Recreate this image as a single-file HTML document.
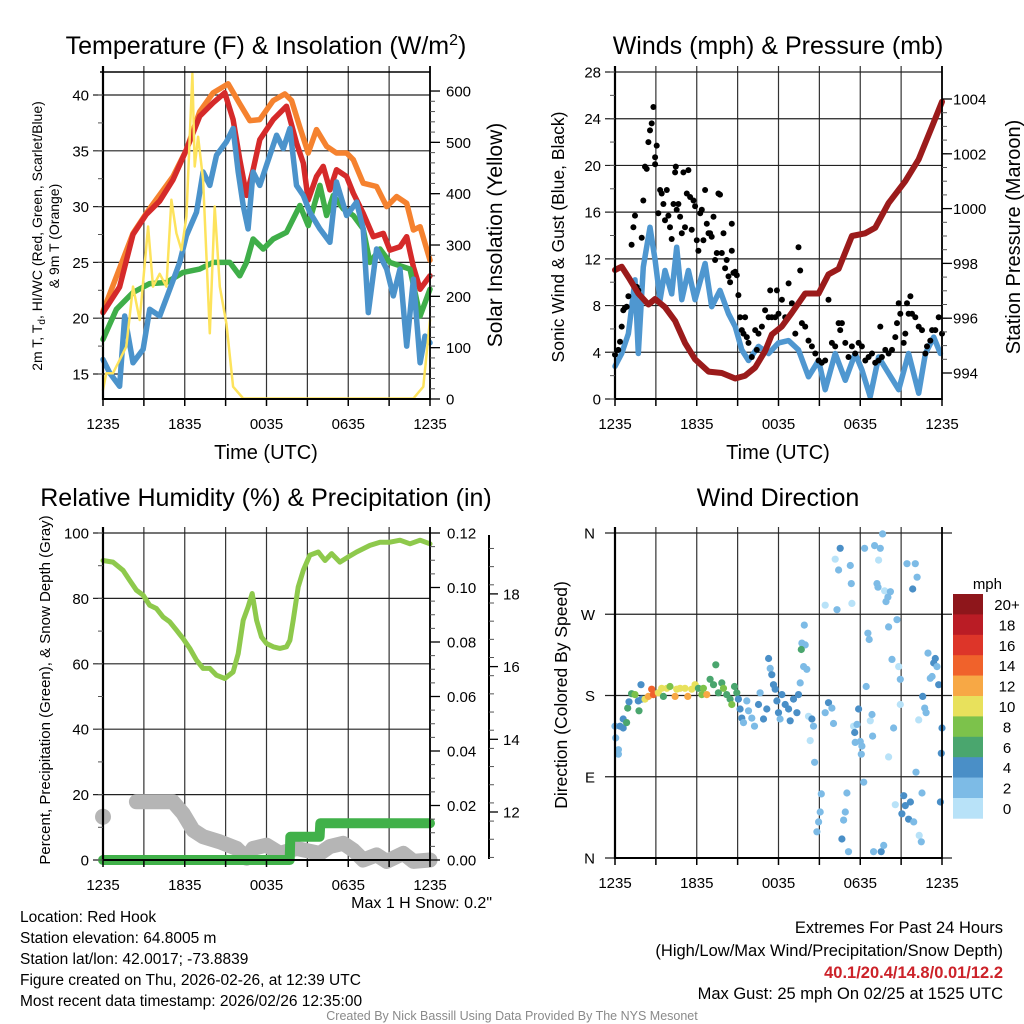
<!DOCTYPE html>
<html><head><meta charset="utf-8"><title>Red Hook Meteogram</title>
<style>
html,body{margin:0;padding:0;background:#fff;}
svg{display:block;font-family:"Liberation Sans",Arial,sans-serif;}
</style></head>
<body>
<svg id="chart" width="1024" height="1024" viewBox="0 0 1024 1024" xmlns="http://www.w3.org/2000/svg">
<rect x="0" y="0" width="1024" height="1024" fill="#fff"/>
<g id="layer-grid"></g>
<g id="layer-data"></g>
<g id="layer-axes"></g>

<!-- Titles -->
<text x="266" y="54" font-size="25" text-anchor="middle">Temperature (F) &amp; Insolation (W/m<tspan dy="-9" font-size="16">2</tspan><tspan dy="9">)</tspan></text>
<text x="778" y="54" font-size="25" text-anchor="middle">Winds (mph) &amp; Pressure (mb)</text>
<text x="266" y="506" font-size="25" text-anchor="middle">Relative Humidity (%) &amp; Precipitation (in)</text>
<text x="778" y="506" font-size="25" text-anchor="middle">Wind Direction</text>

<!-- axis titles -->
<text x="266" y="459" font-size="20" text-anchor="middle">Time (UTC)</text>
<text x="778" y="459" font-size="20" text-anchor="middle">Time (UTC)</text>
<text transform="translate(42,236) rotate(-90)" font-size="14" text-anchor="middle">2m T, T<tspan dy="3" font-size="10">d</tspan><tspan dy="-3">, HI/WC (Red, Green, Scarlet/Blue)</tspan></text>
<text transform="translate(59,236) rotate(-90)" font-size="14" text-anchor="middle">&amp; 9m T (Orange)</text>
<text transform="translate(502,235) rotate(-90)" font-size="21" text-anchor="middle">Solar Insolation (Yellow)</text>
<text transform="translate(564,237) rotate(-90)" font-size="17.5" text-anchor="middle">Sonic Wind &amp; Gust (Blue, Black)</text>
<text transform="translate(1020,237) rotate(-90)" font-size="20" text-anchor="middle">Station Pressure (Maroon)</text>
<text transform="translate(50,690) rotate(-90)" font-size="15" text-anchor="middle">Percent, Precipitation (Green), &amp; Snow Depth (Gray)</text>
<text transform="translate(567,695) rotate(-90)" font-size="17.5" text-anchor="middle">Direction (Colored By Speed)</text>
<text x="492" y="908" font-size="16" text-anchor="end">Max 1 H Snow: 0.2"</text>
<text x="1002" y="589" font-size="15" text-anchor="end">mph</text>

<!-- info text -->
<g font-size="15.5">
<text x="20" y="922">Location: Red Hook</text>
<text x="20" y="943">Station elevation: 64.8005 m</text>
<text x="20" y="964">Station lat/lon: 42.0017; -73.8839</text>
<text x="20" y="985">Figure created on Thu, 2026-02-26, at 12:39 UTC</text>
<text x="20" y="1006">Most recent data timestamp: 2026/02/26 12:35:00</text>
</g>
<g font-size="16.5" text-anchor="end">
<text x="1003" y="933">Extremes For Past 24 Hours</text>
<text x="1003" y="956">(High/Low/Max Wind/Precipitation/Snow Depth)</text>
<text x="1003" y="978" fill="#cc2229" font-weight="bold">40.1/20.4/14.8/0.01/12.2</text>
<text x="1003" y="999">Max Gust: 25 mph On 02/25 at 1525 UTC</text>
</g>
<text x="512" y="1020" font-size="12.5" fill="#8a8a8a" text-anchor="middle">Created By Nick Bassill Using Data Provided By The NYS Mesonet</text>
</svg>

<script>
// ---------- DATA ----------
const xTickLabels = ["1235","1835","0035","0635","1235"];
// Panel 1: temperature (F) & insolation
const redHours = [0,1.22,2.2,3.18,4.16,5.14,6.12,7.1,8.08,8.94,9.55,10.04,10.53,11.02,11.51,12.49,13.47,14.2,14.7,15.06,15.67,16.16,16.65,17.14,17.88,18.37,19.1,19.84,20.57,21.06,21.8,22.29,22.78,23.27,24];
const redTemp = [20.5,22.8,27.5,29.3,30.5,32.4,35.1,38.1,39.3,40.2,37.8,34.2,31.0,33.3,36,37.8,39,35.7,33.9,30.6,32.7,33.6,31.5,33.3,32.7,31.2,29.4,27.3,27.6,26.1,26.4,27.3,24.6,22.6,23.8];
const orangeHours = [0,2.2,3.18,5.14,6.12,7.1,8.08,9.18,10.04,10.78,11.51,12.49,13.35,13.84,14.45,15.06,15.67,16.41,17.14,17.88,18.37,19.1,20.08,20.82,21.55,22.29,22.78,23.27,24];
const orangeTemp = [20.6,27.6,29.4,32.7,35.1,38.5,40.2,41,39.2,37.7,37.8,39.5,40.1,39.5,37.1,34.8,36.9,35.4,34.8,34.8,34.2,32.1,31.8,30,30.9,30.3,27.9,28.2,25.2];
const greenHours = [0,0.98,2.2,3.43,4.65,5.88,7.1,8.08,9.31,10.04,10.53,11.02,11.76,12.49,13.47,14.45,15.06,15.92,16.41,16.9,17.63,18.37,19.1,19.59,20.33,21.06,21.8,22.53,23.27,24];
const greenDew = [18.1,20.8,22.3,23.1,23.2,24.1,24.4,25,25,23.8,25,27.1,26.2,27.1,27.7,30.1,28.3,31.9,29.2,31,29.8,29.2,28,25,26.2,25,24.7,24.4,20.2,22.6];
const blueHours = [0,0.49,1.22,1.59,2.2,2.94,3.43,4.16,4.9,5.63,6.12,6.86,7.35,7.84,8.33,9.06,9.55,9.92,10.29,10.65,11.02,11.51,12,12.74,13.23,13.72,14.2,14.7,15.18,15.92,16.65,17.14,17.88,18.61,19.1,19.47,20.08,20.82,21.31,21.8,22.29,22.78,23.27,23.63,24];
const blueWc = [16.3,15.1,13.9,20.2,16,17.2,20.8,20.2,22.6,25,27.4,29.5,33.1,31.9,34.6,35.8,37,33.1,30.1,28,33.1,31.9,33.7,36.4,35.2,37,31.9,31,29.5,28,26.8,32.2,29.2,30.4,28,20.5,26.2,24.4,22,24.4,17.5,23.5,16,18.4,17.8];
const solarHours = [0,0.24,0.73,1.22,1.71,2.2,2.69,3.31,3.67,4.16,4.65,5.02,5.39,5.76,6.12,6.56,6.73,6.98,7.35,7.84,8.2,8.57,9.06,9.55,10.29,22.78,23.51,24];
const solarWm2 = [18,50,50,76,102,219,154,336,219,244,219,388,323,290,355,634,453,511,427,128,375,219,147,24,1,1,24,154];
const tempTicks = [15,20,25,30,35,40];
const solarTicks = [0,100,200,300,400,500,600];

// Panel 2: winds & pressure
const windHours = [0,0.49,0.98,1.47,1.71,2.08,2.57,2.94,3.31,3.67,4.16,4.53,4.9,5.39,5.88,6.61,7.1,7.71,8.33,8.82,9.31,9.8,10.53,11.27,12,12.74,13.47,14.2,14.94,15.43,16.16,16.9,17.63,18.12,18.73,19.35,20.08,20.82,21.55,22.29,22.78,23.39,23.88];
const windMph = [2.8,3.9,5.6,10.2,3.9,11.3,14.7,11.9,8.5,11,9,13,8.5,11,8.5,11.6,7.9,9.3,7.3,6.2,4.2,3.3,4.5,3.9,4.8,5,4.2,1.9,3.3,0.8,3.9,1.6,3.9,2.5,0.2,3.6,2.2,0.8,3.9,0.5,3.9,5.3,3.9];
const pressHours = [0,0.49,0.98,1.71,2.45,2.94,3.67,4.41,5.14,5.88,6.86,7.84,8.82,9.55,10.29,11.02,11.51,12.25,12.98,13.96,14.94,15.67,16.41,17.39,18.37,19.1,20.08,21.31,22.29,23.27,24];
const pressMb = [997.76,997.88,997.5,996.9,996.5,996.7,996.4,995.9,995.1,994.5,994.05,994,993.8,993.9,994.2,994.8,995.4,995.7,996.2,996.9,996.9,997.6,997.8,999,999.1,999.3,1000.2,1001,1001.8,1003,1003.9];
const gustHours = [0,0.24,0.37,0.49,0.61,0.73,0.86,0.98,1.22,1.35,1.47,1.59,1.71,1.96,2.08,2.2,2.33,2.45,2.57,2.69,2.82,2.94,2.94,3.06,3.18,3.31,3.43,3.55,3.67,3.8,3.92,4.04,4.16,4.29,4.41,4.46,4.53,4.65,4.78,4.9,5.02,5.14,5.27,5.39,5.51,5.63,5.76,5.88,6,6.12,6.25,6.37,6.49,6.61,6.74,6.86,6.98,7.1,7.23,7.35,7.47,7.59,7.71,7.84,7.96,8.08,8.2,8.33,8.45,8.57,8.57,8.69,8.82,8.94,9.06,9.18,9.31,9.43,9.55,9.67,9.8,10.04,10.29,10.41,10.53,10.78,11.02,11.27,11.39,11.51,11.76,11.88,12,12.25,12.49,12.74,12.98,13.23,13.47,13.59,13.72,13.96,14.2,14.45,14.7,14.94,15.18,15.43,15.67,15.92,16.16,16.41,16.53,16.65,16.9,17.14,17.39,17.63,17.88,18.12,18.37,18.61,18.86,19.1,19.35,19.47,19.59,19.84,20.08,20.33,20.57,20.7,20.82,20.94,21.19,21.31,21.43,21.55,21.68,21.8,22.04,22.29,22.53,22.78,22.9,23.14,23.27,23.51,23.76,24];
const gustMph = [3.8,4.2,4.9,6.2,7.6,7.8,7.9,8.8,13.2,14.7,15.7,9.6,9.3,13.8,17,19.9,19.7,22,23,23.6,25,20.7,20.1,21.7,15.9,17.9,17.6,16.7,15.3,17.9,15.7,14.7,13.7,16.7,19.4,19.9,16.2,16.7,15.6,14.2,19.4,14.7,17.6,19.6,17.3,14.5,17,16.5,13.6,12.7,15.9,16.2,13.6,17.9,15,14.2,14.2,13.9,15.6,11.9,12.5,17.6,17.5,12.5,14.2,11.2,11.9,10.5,10,12.7,15,10.8,10.9,10.6,8.9,7,5.9,5.6,7,5.3,4.8,3.6,5.9,4.2,5.6,6.2,7.6,7,9.3,7,7,9.3,7.3,8.5,7,9.9,8.2,5.6,13,11,6.5,6.2,5,4.5,3.9,3.3,3.1,3.3,8.5,4.8,4.5,6.5,5.9,6.5,4.8,3.6,4.5,3.9,4.8,4.5,3.3,3.6,3.9,3.1,3.3,6.2,3.6,4.2,3.9,4.2,5.3,6.5,8.2,7.3,4.8,5.6,8.2,7.3,8.8,7.3,7,6.2,5.9,3.9,4.5,5,5.9,5.9,7,5.6];
const windTicks = [0,4,8,12,16,20,24,28];
const pressTicks = [994,996,998,1000,1002,1004];

// Panel 3: humidity, precipitation, snow depth
const rhHours = [0,0.73,1.47,1.96,2.45,2.94,3.43,3.92,4.41,4.9,5.39,5.88,6.37,6.86,7.35,7.84,8.33,8.94,9.55,9.92,10.29,10.65,10.95,11.27,11.63,12,12.49,12.98,13.47,13.72,13.96,14.33,14.7,15.18,15.8,16.29,16.78,17.39,18,18.61,19.59,20.33,21.06,21.8,22.53,23.27,24];
const rhPct = [91.6,91.1,88.6,85.5,82.5,81,77.9,76.9,74.3,72.8,70.3,67.7,64.7,61.1,58.6,58.6,56.5,55.5,57.5,63.1,73.3,77.4,81.5,73.3,68.2,66.2,65.2,64.7,65.2,67.2,73.3,83.5,88.6,93.2,94.2,91.6,93.7,91.1,92.7,94.2,96.2,97.2,97.2,97.8,96.7,97.8,96.7];
const precipHours = [0,13.7,13.75,15.9,15.95,24];
const precipIn = [0,0,0.0085,0.0085,0.0135,0.0135];
const snowHours = [0,2.45,5.14,5.88,6.61,7.35,8.57,9.8,10.53,11.02,12,12.98,14.2,15.92,16.65,17.63,18.37,19.1,20.08,20.82,22.04,22.78,24];
const snowIn = [11.87,12.28,12.28,11.96,11.5,11.32,11.18,11,10.73,11,11.09,10.86,11,10.86,11.05,11.14,10.95,10.68,10.82,10.64,10.86,10.64,10.68];
const rhTicks = [0,20,40,60,80,100];
const precipTicks = ["0.00","0.02","0.04","0.06","0.08","0.10","0.12"];
const snowTicks = [12,14,16,18];

// Panel 4: wind direction
const dirHours = [0,0.05,0.25,0.25,0.37,0.6,0.6,0.85,0.93,1.03,1.22,1.47,1.71,1.76,1.91,1.96,2.2,2.45,2.69,2.82,3.18,3.43,3.55,3.8,4.04,4.41,4.53,4.78,5.14,5.34,5.63,5.88,6.12,6.37,6.49,6.74,6.98,7.23,7.4,7.59,7.84,7.96,8.2,8.45,8.57,8.77,8.94,9.06,9.18,9.31,9.43,9.67,9.8,10.04,10.24,10.53,10.65,10.9,11.14,11.27,11.39,11.51,11.63,11.76,11.88,12,12.12,12.25,12.49,12.74,12.86,13.1,13.35,13.47,13.59,13.72,13.84,13.89,13.96,14.08,13.67,14.2,14.33,14.45,14.57,14.65,14.82,14.94,15.06,15.14,15.43,15.43,15.67,15.92,16.04,16.16,16.29,16.41,16.53,16.65,16.78,16.9,17.02,17.14,17.27,17.34,17.39,17.51,17.59,17.63,17.76,17.88,18,18.08,18.12,18.25,18.32,18.44,18.56,18.66,18.74,18.86,18.91,18.98,19.05,19.23,19.3,19.35,19.47,19.54,19.64,19.72,19.79,19.89,20.03,20.08,20.21,20.08,20.33,20.45,20.57,20.7,20.82,20.94,20.94,21.06,21.19,21.31,21.43,21.55,21.68,21.85,21.92,22.04,22.17,22.09,22.29,22.33,22.48,22.53,22.58,22.73,22.83,22.97,23.14,23.27,23.39,23.51,23.63,23.76,23.88,23.95,24.05];
const dirDeg = [146,133,120,115,146,144,154,150,166,173,182,181,174,163,192,176,176,179,187,181,183,188,179,188,190,179,187,188,188,179,187,192,188,181,188,181,198,192,214,183,194,188,181,176,170,190,183,176,165,155,150,174,163,155,146,170,183,154,165,221,210,203,192,187,174,161,154,181,170,165,152,176,161,181,194,238,212,258,236,209,231,157,130,154,146,106,29,40,51,71,280,161,172,166,149,331,275,319,343,21,42,51,72,7,324,304,282,146,139,128,148,165,129,115,124,84,343,190,249,242,152,159,135,7,346,304,300,330,343,7,359,14,296,284,289,256,295,112,220,144,59,264,212,198,170,49,69,58,326,43,62,298,40,326,311,95,153,25,18,72,179,166,161,227,199,201,216,221,212,192,62,116,144];
const dirSpeed = [3,3,3,3,4,4,4,6,6,4,7,9,5,6,4,4,10,12,14,15,10,11,7,10,9,13,10,11,10,12,11,10,7,9,8,12,7,7,6,7,7,8,7,7,8,6,7,4,4,4,3,3,3,3,3,4,3,4,4,4,3,4,4,4,4,4,3,4,4,4,4,4,4,4,3,3,3,3,3,3,6,1,1,4,3,3,3,3,3,3,1,3,4,3,3,1,3,3,4,4,3,3,3,3,3,3,1,1,4,3,2,4,3,3,3,3,3,3,3,3,1,3,3,3,3,3,3,1,3,4,3,3,1,3,3,3,3,1,3,3,1,3,1,3,1,4,4,4,3,4,4,4,3,3,3,3,1,1,3,3,4,3,3,3,3,3,4,4,3,4,4,4,4];
const dirTickLabels = ["N","E","S","W","N"];
const speedBinLabels = ["0","2","4","6","8","10","12","14","16","18","20+"];
const speedBinColors = ["#b8e2f8","#7dbbe6","#4a8fc7","#4aa66e","#7cc24b","#e8e15c","#f7a845","#f0622b","#dd3529","#ba1c25","#8e161b"];

// ---------- HELPERS ----------
const NS = "http://www.w3.org/2000/svg";
const gGrid = document.getElementById("layer-grid");
const gData = document.getElementById("layer-data");
const gAxes = document.getElementById("layer-axes");
function mk(tag, parent, attrs) {
  const el = document.createElementNS(NS, tag);
  for (const k in attrs) el.setAttribute(k, attrs[k]);
  parent.appendChild(el);
  return el;
}
const P1 = {L:103, R:430, T:72, B:399};
const P2 = {L:615, R:942, T:72, B:399};
const P3 = {L:103, R:430, T:533, B:860};
const P4 = {L:615, R:942, T:533, B:858};
function xAt(P, h) { return P.L + h / 24 * (P.R - P.L); }
const yTemp = v => 95 + (40 - v) * 55.8 / 5;
const ySolar = v => 399 - v * 0.5133;
const yWind = v => 399 - v * 327 / 28;
const yPress = v => 373 - (v - 994) * 27.4;
const yRh = v => 860 - v * 3.27;
const yPrecip = v => 860 - v / 0.12 * 327;
const ySnow = v => 812 - (v - 12) * 36.35;
const yDir = d => 858 - d / 360 * 325;

function pathD(P, hours, vals, yf) {
  let d = "";
  for (let i = 0; i < hours.length; i++) {
    d += (i ? "L" : "M") + xAt(P, hours[i]).toFixed(1) + " " + yf(vals[i]).toFixed(1);
  }
  return d;
}
function series(P, hours, vals, yf, color, w, name) {
  const el = mk("path", gData, {d: pathD(P, hours, vals, yf), fill: "none", stroke: color, "stroke-width": w, "stroke-linejoin": "round", "stroke-linecap": "round"});
  
  
  return el;
}
function text(parent, x, y, s, size, anchor, name) {
  const el = mk("text", parent, {x: x, y: y, "font-size": size, "text-anchor": anchor});
  el.textContent = s;
  
  
  return el;
}
function hline(parent, x1, x2, y, col, w, name) {
  const el = mk("line", parent, {x1: x1, x2: x2, y1: y, y2: y, stroke: col, "stroke-width": w});
  
  
}
function vline(parent, x, y1, y2, col, w, name) {
  const el = mk("line", parent, {x1: x, x2: x, y1: y1, y2: y2, stroke: col, "stroke-width": w});
  
  
}
function timeAxis(P, prefix) {
  for (let h = 0; h <= 24; h += 3) {
    const x = xAt(P, h);
    vline(gGrid, x, P.T - 6, P.B, "#333", 1.2, prefix + "-x-gridline");
    vline(gAxes, x, P.B, P.B + 7, "#000", 1.5, prefix + "-x-tick");
  }
  for (let i = 0; i < xTickLabels.length; i++) {
    text(gAxes, xAt(P, i * 6), P.B + 30, xTickLabels[i], 15, "middle", prefix + "-x-tick-label");
  }
  vline(gAxes, P.L, P.T - 6, P.B + 1, "#000", 2.2, prefix + "-left-axis-line");
  vline(gAxes, P.R, P.T - 6, P.B + 1, "#000", 1.8, prefix + "-right-axis-line");
  hline(gAxes, P.L, P.R, P.B, "#000", 2, prefix + "-x-axis-line");
}
function leftTicks(P, ticks, yf, minorStep, prefix, fmt) {
  const lo = ticks[0], hi = ticks[ticks.length - 1];
  for (let v = lo; v <= hi + 1e-9; v += minorStep) {
    hline(gAxes, P.L - 5, P.L, yf(v), "#555", 1, prefix + "-minor-tick");
  }
  ticks.forEach(v => {
    const y = yf(v);
    hline(gGrid, P.L - 10, P.R, y, "#222", 1.2, prefix + "-y-gridline");
    text(gAxes, P.L - 14, y + 5.5, fmt ? fmt(v) : String(v), 15, "end", prefix + "-y-tick-label");
  });
}
function rightTicks(P, ticks, yf, minorStep, prefix, labelX) {
  const lo = ticks[0], hi = ticks[ticks.length - 1];
  for (let v = lo; v <= hi + 1e-9; v += minorStep) {
    hline(gAxes, P.R, P.R + 5, yf(v), "#555", 1, prefix + "-minor-tick");
  }
  ticks.forEach(v => {
    const y = yf(v);
    hline(gAxes, P.R, P.R + 10, y, "#000", 1.3, prefix + "-major-tick");
    text(gAxes, labelX, y + 5.5, String(v), 15, "start", prefix + "-tick-label");
  });
}

// ---------- PANEL 1 ----------
timeAxis(P1, "temp");
leftTicks(P1, tempTicks, yTemp, 2.5, "temp");
hline(gAxes, P1.L - 3, P1.R, P1.T, "#000", 1.5, "temp-top-frame");
rightTicks(P1, solarTicks, ySolar, 20, "solar", 446);
series(P1, orangeHours, orangeTemp, yTemp, "#f5822f", 5.5, "temp-9m-line");
series(P1, redHours, redTemp, yTemp, "#d52a2a", 5.5, "temp-2m-line");
series(P1, greenHours, greenDew, yTemp, "#3fae49", 5.5, "dewpoint-line");
series(P1, blueHours, blueWc, yTemp, "#4b93cb", 5.5, "windchill-line");
series(P1, solarHours, solarWm2, ySolar, "#fde35c", 2.5, "insolation-line");

// ---------- PANEL 2 ----------
timeAxis(P2, "wind");
leftTicks(P2, windTicks, yWind, 2, "wind");
rightTicks(P2, pressTicks, yPress, 0.5, "pressure", 953);
series(P2, windHours, windMph, yWind, "#4f97d0", 5.5, "sonic-wind-line");
for (let i = 0; i < gustHours.length; i++) {
  const c = mk("circle", gData, {cx: xAt(P2, gustHours[i]).toFixed(1), cy: yWind(gustMph[i]).toFixed(1), r: 3, fill: "#000"});
  
  
}
series(P2, pressHours, pressMb, yPress, "#9b1b1b", 6, "pressure-line");

// ---------- PANEL 3 ----------
timeAxis(P3, "rh");
leftTicks(P3, rhTicks, yRh, 10, "rh");
for (let i = 0; i <= 24; i++) {
  hline(gAxes, P3.R, P3.R + 5, yPrecip(i * 0.005), "#555", 1, "precip-minor-tick");
}
precipTicks.forEach(s => {
  const y = yPrecip(parseFloat(s));
  hline(gAxes, P3.R, P3.R + 10, y, "#000", 1.3, "precip-major-tick");
  text(gAxes, 447, y + 5.5, s, 15, "start", "precip-tick-label");
});
vline(gAxes, 489, P3.T + 2, P3.B - 1, "#000", 2, "snow-axis-line");
for (let v = 10.75; v <= 19.5; v += 0.5) {
  hline(gAxes, 489, 494, ySnow(v), "#555", 1, "snow-minor-tick");
}
snowTicks.forEach(v => {
  hline(gAxes, 489, 498, ySnow(v), "#000", 1.3, "snow-major-tick");
  text(gAxes, 503, ySnow(v) + 5.5, String(v), 15, "start", "snow-tick-label");
});
const snowDot = mk("circle", gData, {cx: xAt(P3, snowHours[0]), cy: ySnow(snowIn[0]), r: 8, fill: "#b5b5b5"});


series(P3, snowHours.slice(1), snowIn.slice(1), ySnow, "#b5b5b5", 15, "snow-depth-line");
series(P3, precipHours, precipIn, yPrecip, "#41b14a", 10, "precipitation-line");
series(P3, rhHours, rhPct, yRh, "#8ec94c", 5, "humidity-line");

// ---------- PANEL 4 ----------
timeAxis(P4, "dir");
for (let i = 0; i < dirTickLabels.length; i++) {
  const y = yDir(i * 90);
  hline(gGrid, P4.L - 10, P4.R + 10, y, "#222", 1.2, "dir-y-gridline");
  text(gAxes, P4.L - 20, y + 5.5, dirTickLabels[i], 15, "end", "dir-y-tick-label");
}
function speedColor(s) {
  let b = Math.floor(s / 2);
  if (b > 10) b = 10;
  return speedBinColors[b];
}
for (let i = 0; i < dirHours.length; i++) {
  const c = mk("circle", gData, {cx: xAt(P4, Math.min(24, dirHours[i])).toFixed(1), cy: yDir(dirDeg[i]).toFixed(1), r: 3.6, fill: speedColor(dirSpeed[i])});
  
  
}
const cbTop = 594, cbH = 20.4;
for (let i = 0; i < speedBinColors.length; i++) {
  const idx = speedBinColors.length - 1 - i;
  const r = mk("rect", gAxes, {x: 953, y: (cbTop + i * cbH).toFixed(1), width: 30, height: (cbH + 0.3).toFixed(1), fill: speedBinColors[idx]});
  
  
  text(gAxes, 1007, cbTop + i * cbH + 16, speedBinLabels[idx], 15, "middle", "colorbar-label");
}
</script>
</body></html>
